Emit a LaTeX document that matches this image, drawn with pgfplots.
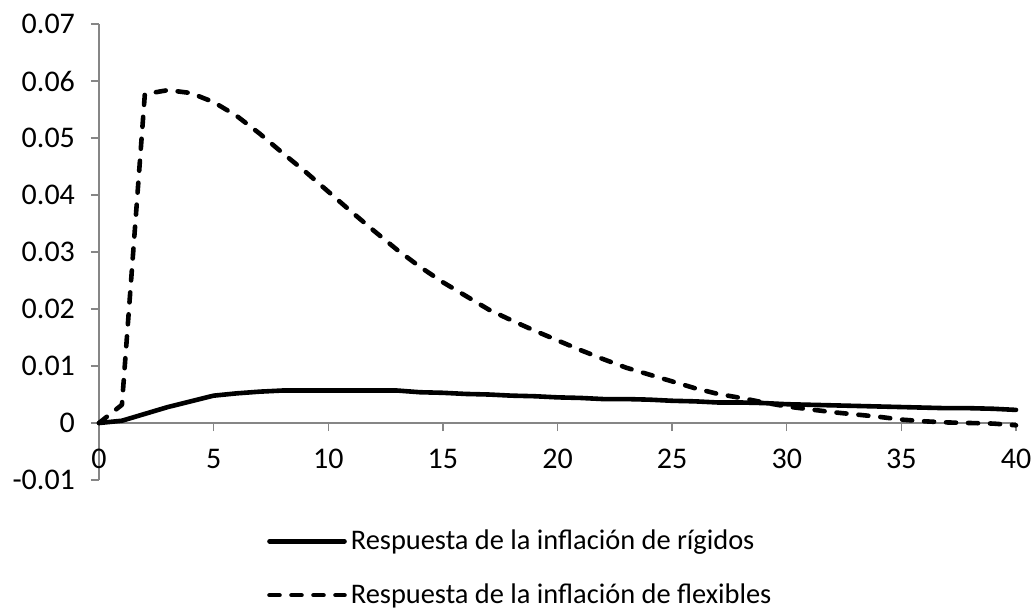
\documentclass[border=0pt]{standalone}
\usepackage{pgfplots}
\pgfplotsset{compat=1.18}
\usepackage{fontspec}
\setmainfont{Carlito}
\definecolor{axisgray}{HTML}{868686}

% Impulse responses over 40 periods
\pgfplotstableread{
t   rig     flex
0   0.0000  0.0000
1   0.0004  0.0032
2   0.0016  0.0577
3   0.0028  0.0584
4   0.0038  0.0579
5   0.0048  0.0563
6   0.0052  0.0539
7   0.0055  0.0508
8   0.0057  0.0474
9   0.0057  0.0441
10  0.0057  0.0406
11  0.0057  0.0371
12  0.0057  0.0337
13  0.0057  0.0304
14  0.0054  0.0274
15  0.0053  0.0247
16  0.0051  0.0223
17  0.0050  0.0199
18  0.0048  0.0180
19  0.0047  0.0162
20  0.0045  0.0145
21  0.0044  0.0128
22  0.0042  0.0112
23  0.0042  0.0097
24  0.0041  0.0085
25  0.0039  0.0073
26  0.0038  0.0061
27  0.0036  0.0051
28  0.0036  0.0044
29  0.0035  0.0036
30  0.0033  0.0029
31  0.0032  0.0024
32  0.0031  0.0019
33  0.0030  0.0015
34  0.0029  0.0011
35  0.0028  0.0006
36  0.0027  0.0003
37  0.0026  0.0001
38  0.0026  0.0000
39  0.0025  -0.0001
40  0.0023  -0.0004
}\irf

\begin{document}
\begin{tikzpicture}
\begin{axis}[
  name=ax,
  scale only axis,
  width=458.5pt, height=228pt,
  xmin=0, xmax=40, ymin=-0.01, ymax=0.07,
  axis x line=middle, axis y line=left,
  hide obscured x ticks=false,
  x axis line style={-, axisgray, line width=0.65pt},
  y axis line style={-, axisgray, line width=0.65pt},
  tick style={axisgray, line width=0.65pt},
  tick align=outside,
  major tick length=4pt,
  xtick={0,5,...,40},
  scaled y ticks=false,
  ytick={-0.01,0,0.01,0.02,0.03,0.04,0.05,0.06,0.07},
  yticklabels={-0.01,0,0.01,0.02,0.03,0.04,0.05,0.06,0.07},
  /pgf/number format/assume math mode=true,
  tick label style={font=\fontsize{15}{18}\selectfont, text=black},
  xticklabel style={yshift=-5.5pt},
  yticklabel style={xshift=-4.5pt},
  clip=false,
  legend cell align=left,
  legend style={at={(rel axis cs:0.183,-0.10)}, anchor=north west,
    draw=none, fill=none, inner sep=0pt, row sep=11.5pt,
    font=\fontsize{14.2}{17}\selectfont},
  legend image code/.code={\draw[#1] (0pt,0pt) -- (37.5pt,0pt);},
]
\addplot[black, line width=2.3pt, line join=round, line cap=round]
  table[x=t, y=rig] {\irf};
\addlegendentry{Respuesta de la inflación de rígidos}
\addplot[black, line width=2.3pt, line join=round, line cap=round,
  dash pattern=on 5pt off 6pt]
  table[x=t, y=flex] {\irf};
\addlegendentry{Respuesta de la inflación de flexibles}
\coordinate (bbsw) at (rel axis cs:0,0);
\end{axis}
\pgfresetboundingbox
\useasboundingbox ([xshift=-49.5pt, yshift=-66pt]bbsw) rectangle ([xshift=468.5pt, yshift=240pt]bbsw);
\end{tikzpicture}
\end{document}
